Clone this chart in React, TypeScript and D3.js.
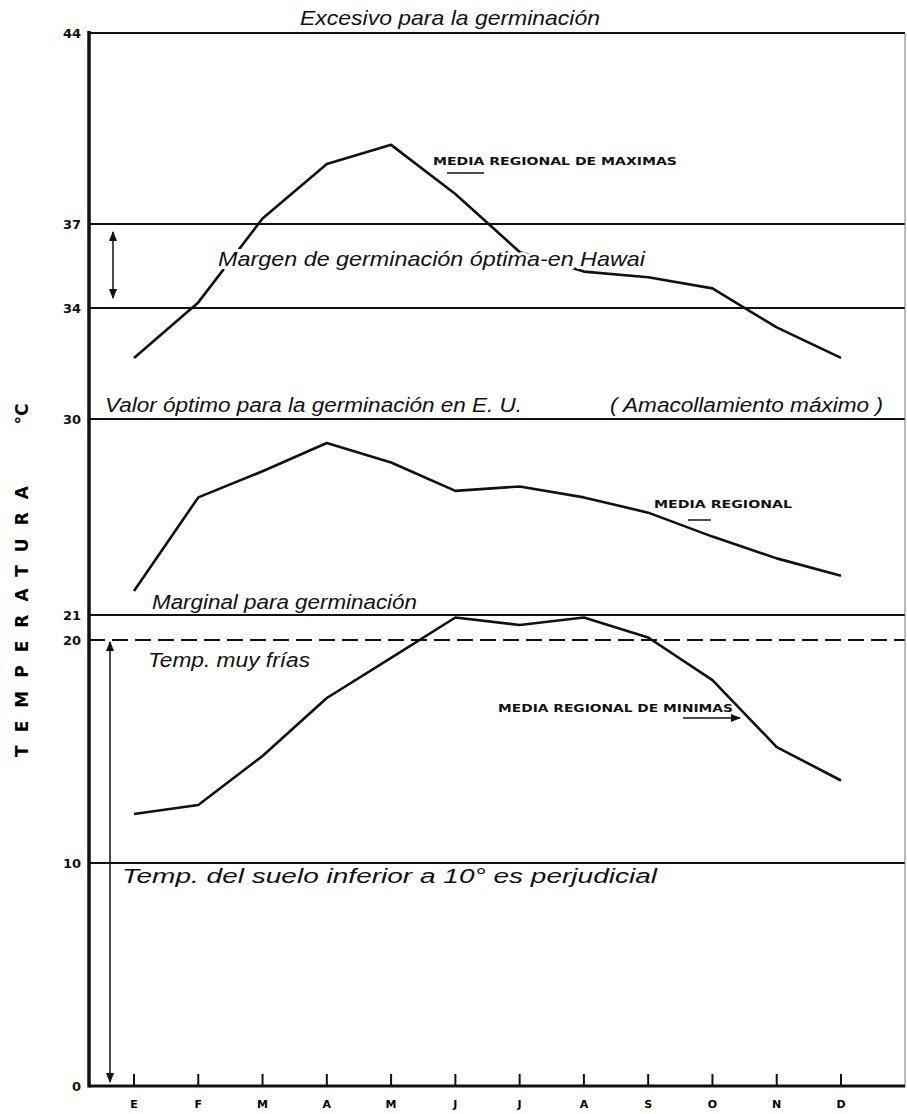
import React from "react";
import * as d3 from "d3";

// months (Spanish initials) along the bottom
const monthLabels = ["E", "F", "M", "A", "M", "J", "J", "A", "S", "O", "N", "D"];

// temperatures in °C
const maxTemps = [32.2, 34.2, 37.2, 39.2, 39.9, 38.1, 36.0, 35.3, 35.1, 34.7, 33.3, 32.2];
const meanTemps = [22.1, 26.4, 27.6, 28.9, 28.0, 26.7, 26.9, 26.4, 25.7, 24.6, 23.6, 22.8];
const minTemps = [12.2, 12.6, 14.8, 17.4, 19.2, 20.9, 20.6, 20.9, 20.1, 18.2, 15.2, 13.7];

// the hand-drawn y axis is not uniform, so the scale is piecewise
const yTicks = [0, 10, 20, 21, 30, 34, 37, 44];
const solidLevels = [44, 37, 34, 30, 21, 10];
const dashedLevels = [20];

const W = 907;
const H = 1114;
const axisX = 89;
const rightX = 905;

const sans = "'Liberation Sans', 'DejaVu Sans', sans-serif";

export default function App() {
  const x = d3
    .scalePoint<number>()
    .domain(d3.range(monthLabels.length))
    .range([134, 841]);

  const y = d3
    .scaleLinear()
    .domain(yTicks)
    .range([1086, 863, 640, 615, 419, 308, 224, 33]);

  const line = d3
    .line<number>()
    .x((_, i) => x(i)!)
    .y((d) => y(d));

  const italic = (
    txt: string,
    x0: number,
    yb: number,
    len: number,
    size = 20,
    halo = false
  ) => (
    <text
      x={x0}
      y={yb}
      fontFamily={sans}
      fontStyle="italic"
      fontSize={size}
      textLength={len}
      lengthAdjust="spacingAndGlyphs"
      fill="#111"
      stroke={halo ? "#fff" : "none"}
      strokeWidth={halo ? 6 : 0}
      paintOrder="stroke"
    >
      {txt}
    </text>
  );

  const caps = (txt: string, x0: number, yb: number, len: number) => (
    <text
      x={x0}
      y={yb}
      fontFamily="'DejaVu Sans', sans-serif"
      fontWeight="bold"
      fontSize={10.5}
      textLength={len}
      lengthAdjust="spacingAndGlyphs"
      fill="#111"
    >
      {txt}
    </text>
  );

  return (
    <svg
      width={W}
      height={H}
      style={{ position: "absolute", left: 0, top: 0, background: "#fff" }}
    >
      <defs>
        <marker id="ah" viewBox="0 0 10 10" refX="9" refY="5" markerWidth="7" markerHeight="7" orient="auto-start-reverse">
          <path d="M0,1 L10,5 L0,9 z" fill="#111" />
        </marker>
      </defs>
      <rect width={W} height={H} fill="#fff" />

      {/* reference levels */}
      {solidLevels.map((v) => (
        <line key={v} x1={axisX} x2={rightX} y1={y(v)} y2={y(v)} stroke="#111" strokeWidth={1.8} />
      ))}
      {dashedLevels.map((v) => (
        <line key={v} x1={axisX} x2={rightX} y1={y(v)} y2={y(v)} stroke="#111" strokeWidth={1.8} strokeDasharray="16 7" />
      ))}

      {/* right border */}
      <line x1={rightX} x2={rightX} y1={y(44)} y2={y(0)} stroke="#777" strokeWidth={1} />

      {/* axes */}
      <line x1={axisX} x2={axisX} y1={y(44) - 2} y2={y(0) + 1.5} stroke="#111" strokeWidth={3.5} />
      <line x1={axisX} x2={rightX} y1={y(0)} y2={y(0)} stroke="#111" strokeWidth={3} />

      {monthLabels.map((m, i) => (
        <g key={i}>
          <line x1={x(i)} x2={x(i)} y1={y(0)} y2={y(0) - 12} stroke="#111" strokeWidth={2} />
          <text x={x(i)} y={y(0) + 22} textAnchor="middle" fontFamily="'DejaVu Sans', sans-serif" fontWeight="bold" fontSize={11}>
            {m}
          </text>
        </g>
      ))}

      {yTicks.map((v) => (
        <text
          key={v}
          x={axisX - 8}
          y={y(v)}
          dy="0.35em"
          textAnchor="end"
          fontFamily="'DejaVu Sans', sans-serif"
          fontWeight="bold"
          fontSize={13}
          fill="#111"
        >
          {v}
        </text>
      ))}

      {/* axis title */}
      <text
        transform={`translate(22,${615}) rotate(-90)`}
        textAnchor="middle"
        dy="0.35em"
        fontFamily="'DejaVu Sans', sans-serif"
        fontWeight="bold"
        fontSize={17}
        letterSpacing={13}
      >
        TEMPERATURA
      </text>
      <text
        transform={`translate(22,${414}) rotate(-90)`}
        textAnchor="middle"
        dy="0.35em"
        fontFamily="'DejaVu Sans', sans-serif"
        fontWeight="bold"
        fontSize={17}
      >
        °C
      </text>

      {/* double arrows */}
      <line x1={113} x2={113} y1={y(37) + 8} y2={y(34) - 10} stroke="#111" strokeWidth={1.5} markerStart="url(#ah)" markerEnd="url(#ah)" />
      <line x1={110} x2={110} y1={y(20) + 2} y2={y(0) - 4} stroke="#111" strokeWidth={1.5} markerStart="url(#ah)" markerEnd="url(#ah)" />

      {/* curves */}
      {[maxTemps, meanTemps, minTemps].map((s, k) => (
        <path key={k} d={line(s)!} fill="none" stroke="#111" strokeWidth={2.6} strokeLinejoin="round" />
      ))}

      {/* annotations */}
      {italic("Excesivo para la germinación", 300, 25, 300, 21)}
      {italic("Margen de germinación óptima-en Hawai", 218, 266, 427, 21, true)}
      {italic("Valor óptimo para la germinación en E. U.", 105, 412, 417, 20)}
      {italic("( Amacollamiento máximo )", 610, 412, 273, 20)}
      {italic("Marginal para germinación", 152, 609, 265, 20)}
      {italic("Temp. muy frías", 148, 667, 162, 20)}
      {italic("Temp. del suelo inferior a 10° es perjudicial", 122, 883, 535, 20)}

      {caps("MEDIA REGIONAL DE MAXIMAS", 433, 165, 244)}
      <line x1={447} x2={484} y1={173} y2={173} stroke="#111" strokeWidth={1.5} />
      {caps("MEDIA REGIONAL", 654, 508, 138)}
      <line x1={688} x2={711} y1={520} y2={520} stroke="#111" strokeWidth={1.5} />
      {caps("MEDIA REGIONAL DE MINIMAS", 498, 712, 235)}
      <line x1={683} x2={740} y1={718} y2={718} stroke="#111" strokeWidth={1.5} markerEnd="url(#ah)" />
    </svg>
  );
}
